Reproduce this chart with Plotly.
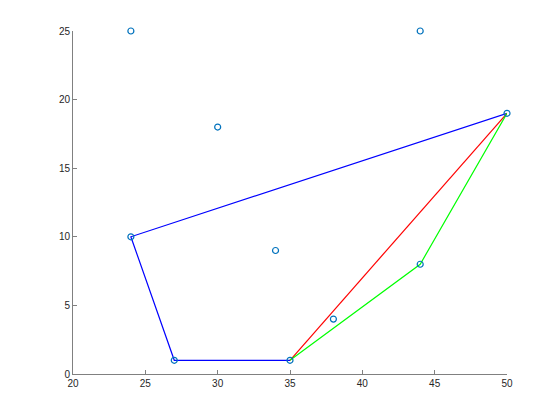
import plotly.graph_objects as go

pts_x = [24, 44, 30, 50, 24, 34, 44, 38, 27, 35]
pts_y = [25, 25, 18, 19, 10, 9, 8, 4, 1, 1]

blue_x = [50, 24, 27, 35]
blue_y = [19, 10, 1, 1]
red_x = [35, 50]
red_y = [1, 19]
green_x = [35, 44, 50]
green_y = [1, 8, 19]

x_ticks = [20, 25, 30, 35, 40, 45, 50]
y_ticks = [0, 5, 10, 15, 20, 25]

fig = go.Figure()
fig.add_trace(go.Scatter(x=blue_x, y=blue_y, mode="lines", cliponaxis=False, line=dict(color="#0000FF", width=1.2)))
fig.add_trace(go.Scatter(x=red_x, y=red_y, mode="lines", cliponaxis=False, line=dict(color="#FF0000", width=1.2)))
fig.add_trace(go.Scatter(x=green_x, y=green_y, mode="lines", cliponaxis=False, line=dict(color="#00FF00", width=1.2)))
fig.add_trace(go.Scatter(x=pts_x, y=pts_y, mode="markers", cliponaxis=False,
                         marker=dict(symbol="circle-open", size=6, color="#0072BD", line=dict(width=1.2))))

axis_common = dict(showgrid=False, zeroline=False, showline=True, linecolor="#808080", linewidth=1,
                   ticks="inside", ticklen=4, tickcolor="#808080", tickfont=dict(size=10, color="#262626"),
                   mirror=False)
fig.update_layout(
    width=552, height=412, showlegend=False,
    margin=dict(l=65, r=53, t=23, b=46),
    paper_bgcolor="white", plot_bgcolor="white",
    font=dict(family="Liberation Sans, Arial, sans-serif"),
    xaxis=dict(range=[20, 50], tickvals=x_ticks, **axis_common),
    yaxis=dict(range=[0, 25], tickvals=y_ticks, **axis_common),
)
fig.write_html("out.html")
